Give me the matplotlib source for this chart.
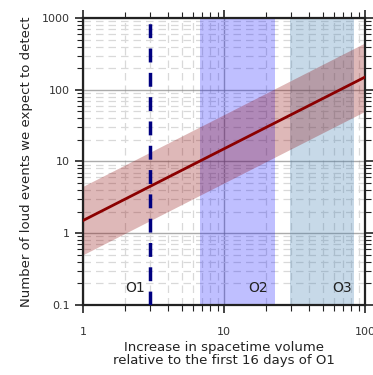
import numpy as np
import matplotlib.pyplot as plt
from matplotlib.ticker import LogLocator, FixedLocator, FixedFormatter, NullFormatter

# relative spacetime volume (x) and expected loud events (y)
volume = [1, 100]
expected = [1.5, 150]
expected_lo = [0.5, 50]
expected_hi = [4.5, 450]

o1_volume = 3
o2_span = [6.8, 23]
o3_span = [29.5, 84]
run_labels = ["O1", "O2", "O3"]
run_label_x = [2.35, 17.4, 68.5]
run_label_y = 0.17

x_ticks = [1, 10, 100]
x_ticklabels = ["1", "10", "100"]
y_ticks = [0.1, 1, 10, 100, 1000]
y_ticklabels = ["0.1", "1", "10", "100", "1000"]

plt.rcParams["font.family"] = ["DejaVu Sans"]

fig = plt.figure(figsize=(3.73, 3.75), dpi=100)
ax = fig.add_axes([0.2225, 0.187, 0.756, 0.765])
ax.set_xscale("log")
ax.set_yscale("log")

ax.axvspan(o2_span[0], o2_span[1], color="blue", alpha=0.25, lw=0, zorder=1)
ax.axvspan(o3_span[0], o3_span[1], color="steelblue", alpha=0.3, lw=0, zorder=1)
ax.fill_between(volume, expected_lo, expected_hi, color="darkred", alpha=0.28, lw=0, zorder=2)
ax.plot(volume, expected, color="darkred", lw=2, zorder=3)
ax.axvline(o1_volume, color="navy", lw=2.5, ls=(0, (4, 3)), zorder=4)

for lab, xx in zip(run_labels, run_label_x):
    ax.text(xx, run_label_y, lab, fontsize=10, color="#222222", ha="center", va="center", zorder=5)

ax.set_xlim(1, 100)
ax.set_ylim(0.1, 1000)

ax.xaxis.set_major_locator(FixedLocator(x_ticks))
ax.xaxis.set_major_formatter(FixedFormatter(x_ticklabels))
ax.yaxis.set_major_locator(FixedLocator(y_ticks))
ax.yaxis.set_major_formatter(FixedFormatter(y_ticklabels))
ax.xaxis.set_minor_locator(LogLocator(base=10, subs=np.arange(2, 10)))
ax.yaxis.set_minor_locator(LogLocator(base=10, subs=np.arange(2, 10)))
ax.xaxis.set_minor_formatter(NullFormatter())
ax.yaxis.set_minor_formatter(NullFormatter())

ax.grid(which="major", color="#888888", lw=1, alpha=0.7, zorder=0)
ax.grid(which="minor", color="#d9d9d9", lw=0.9, ls=(0, (6, 4)), zorder=0)
ax.set_axisbelow(True)

ax.tick_params(which="both", top=True, right=True, direction="out", color="#222222",
               labelsize=8, labelcolor="#333333")
ax.tick_params(which="major", length=6, width=1.2)
ax.tick_params(which="minor", length=4, width=0.8)
ax.tick_params(axis="x", which="major", pad=10)
for s in ax.spines.values():
    s.set_linewidth(1.6)
    s.set_color("#222222")

ax.set_xlabel("Increase in spacetime volume\nrelative to the first 16 days of O1",
              fontsize=9.5, color="#222222", linespacing=1.0, labelpad=3)
ax.set_ylabel("Number of loud events we expect to detect", fontsize=9.5,
              color="#222222", labelpad=6)

fig.savefig("out.png", dpi=100)
plt.close(fig)
